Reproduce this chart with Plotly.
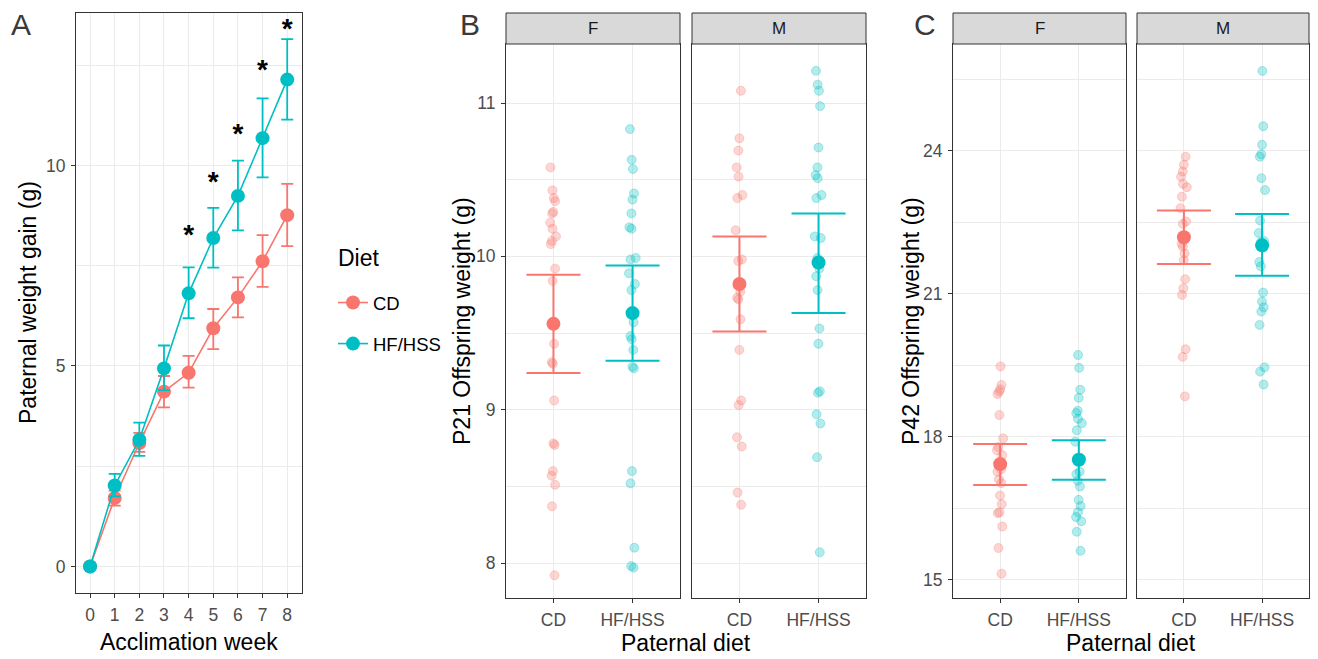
import plotly.graph_objects as go

# page body adds an 8px margin; figure coordinates below are given in screen pixels
OFF = 8
W, H = 1318 - 2 * OFF, 659 - OFF
FONT = "Liberation Sans"
CD_COLOR = "#F8766D"
HF_COLOR = "#00BFC4"
CD_ALPHA = "rgba(248,118,109,0.3)"
HF_ALPHA = "rgba(0,191,196,0.3)"

# ---------------- Panel A data ----------------
weeks = [0, 1, 2, 3, 4, 5, 6, 7, 8]
cd_mean = [0, 1.71, 3.08, 4.36, 4.83, 5.94, 6.71, 7.61, 8.76]
cd_lo = [0, 1.52, 2.86, 3.97, 4.46, 5.42, 6.21, 6.97, 7.99]
cd_hi = [0, 1.89, 3.33, 4.75, 5.25, 6.42, 7.21, 8.26, 9.54]
hf_mean = [0, 2.02, 3.16, 4.94, 6.81, 8.19, 9.24, 10.68, 12.14]
hf_lo = [0, 1.75, 2.76, 4.40, 6.19, 7.45, 8.38, 9.70, 11.14]
hf_hi = [0, 2.31, 3.59, 5.51, 7.46, 8.94, 10.12, 11.67, 13.15]
star_weeks = [4, 5, 6, 7, 8]
star_y = [8.22, 9.54, 10.74, 12.34, 13.36]

# ---------------- Panel B data (P21) ----------------
categories = ["CD", "HF/HSS"]
b_f_cd = [10.58, 10.43, 10.38, 10.36, 10.29, 10.28, 10.22, 10.18, 10.13, 10.10, 10.08, 9.92,
          9.84, 9.43, 9.31, 9.30, 9.06, 8.78, 8.77, 8.60, 8.57, 8.51, 8.37, 7.92]
b_f_hf = [10.83, 10.63, 10.57, 10.41, 10.37, 10.28, 10.19, 10.18, 9.99, 9.98, 9.89, 9.82,
          9.78, 9.57, 9.48, 9.46, 9.39, 9.28, 9.27, 8.60, 8.52, 8.10, 7.98, 7.97]
b_m_cd = [11.08, 10.77, 10.69, 10.58, 10.52, 10.40, 10.38, 10.17, 9.98, 9.97, 9.77, 9.73,
          9.72, 9.59, 9.39, 9.06, 9.03, 8.82, 8.76, 8.46, 8.38]
b_m_hf = [11.21, 11.12, 11.08, 10.98, 10.71, 10.58, 10.53, 10.51, 10.40, 10.38, 10.13, 10.12,
          9.99, 9.92, 9.87, 9.78, 9.53, 9.43, 9.12, 9.11, 8.97, 8.91, 8.69, 8.07]
# mean, lower, upper  (CD, HF/HSS)
b_f_stats = [(9.56, 9.24, 9.88), (9.63, 9.32, 9.94)]
b_m_stats = [(9.82, 9.51, 10.13), (9.96, 9.63, 10.28)]

# ---------------- Panel C data (P42) ----------------
c_f_cd = [19.48, 19.09, 19.00, 18.95, 18.90, 18.46, 17.97, 17.79, 17.72, 17.62, 17.45, 17.32,
          17.27, 17.11, 17.03, 16.77, 16.59, 16.42, 16.40, 16.12, 15.67, 15.13]
c_f_hf = [19.72, 19.45, 18.99, 18.82, 18.55, 18.50, 18.38, 18.29, 18.14, 17.90, 17.55, 17.50,
          17.27, 17.22, 17.08, 16.96, 16.68, 16.55, 16.42, 16.32, 16.23, 16.01, 15.61]
c_m_cd = [23.88, 23.71, 23.57, 23.46, 23.31, 23.24, 23.04, 22.80, 22.52, 22.47, 22.15, 22.05,
          21.99, 21.85, 21.71, 21.31, 21.12, 20.98, 19.84, 19.68, 18.85]
c_m_hf = [25.68, 24.52, 24.13, 23.93, 23.88, 23.43, 23.18, 22.54, 22.28, 22.11, 22.09, 21.97,
          21.67, 21.58, 21.03, 20.84, 20.72, 20.63, 20.35, 19.46, 19.37, 19.10]
c_f_stats = [(17.43, 16.99, 17.85), (17.52, 17.10, 17.93)]
c_m_stats = [(22.19, 21.63, 22.75), (22.02, 21.38, 22.68)]

facet_labels = ["F", "M"]


def fx(p):
    return (p - OFF) / W


def fy(p):
    return 1 - (p - OFF) / H


fig = go.Figure()

# ---------------- Panel A traces ----------------
for name, mean, lo, hi, col in [("CD", cd_mean, cd_lo, cd_hi, CD_COLOR),
                                ("HF/HSS", hf_mean, hf_lo, hf_hi, HF_COLOR)]:
    fig.add_trace(go.Scatter(
        x=weeks, y=mean, mode="lines+markers", name=name, legendgroup=name,
        line=dict(color=col, width=1.6), marker=dict(size=14, color=col),
        error_y=dict(type="data", symmetric=False,
                     array=[h - m for h, m in zip(hi, mean)],
                     arrayminus=[m - l for m, l in zip(mean, lo)],
                     color=col, thickness=1.8, width=6),
        xaxis="x", yaxis="y", hoverinfo="skip"))

fig.add_trace(go.Scatter(
    x=star_weeks, y=star_y, mode="text", text=["*"] * len(star_weeks),
    textposition="middle center",
    textfont=dict(size=28, color="black", family=FONT, weight="bold"),
    showlegend=False, xaxis="x", yaxis="y", cliponaxis=False, hoverinfo="skip"))

# ---------------- Facet traces ----------------
facets = [
    ("x2", "y2", b_f_cd, b_f_hf, b_f_stats),
    ("x3", "y3", b_m_cd, b_m_hf, b_m_stats),
    ("x4", "y4", c_f_cd, c_f_hf, c_f_stats),
    ("x5", "y5", c_m_cd, c_m_hf, c_m_stats),
]
for xa, ya, cdv, hfv, stats in facets:
    for cat, vals, col, alpha in [("CD", cdv, CD_COLOR, CD_ALPHA), ("HF/HSS", hfv, HF_COLOR, HF_ALPHA)]:
        fig.add_trace(go.Box(
            x=[cat] * len(vals), y=vals, boxpoints="all", jitter=0.2, pointpos=0,
            fillcolor="rgba(0,0,0,0)", line=dict(color="rgba(0,0,0,0)", width=0),
            marker=dict(size=9, color=alpha, line=dict(color=alpha, width=1)),
            showlegend=False, hoverinfo="skip", xaxis=xa, yaxis=ya))
    for cat, (m, lo, hi), col in zip(categories, stats, [CD_COLOR, HF_COLOR]):
        fig.add_trace(go.Scatter(
            x=[cat], y=[m], mode="markers", marker=dict(size=14, color=col),
            error_y=dict(type="data", symmetric=False, array=[hi - m], arrayminus=[m - lo],
                         color=col, thickness=2, width=27),
            showlegend=False, hoverinfo="skip", xaxis=xa, yaxis=ya))

# ---------------- Axes ----------------
common = dict(showline=True, mirror=True, linecolor="#333333", linewidth=1,
              ticks="outside", tickcolor="#333333", ticklen=4, tickwidth=1,
              showgrid=True, gridcolor="#EBEBEB", gridwidth=1.2, zeroline=False,
              ticklabelstandoff=2,
              tickfont=dict(size=17.5, color="#4D4D4D", family=FONT))

A_top, A_bot = 13, 593
F_top, F_bot = 44, 598
S_top = 13

layout_axes = {}
layout_axes["xaxis"] = dict(domain=[fx(76), fx(302)], range=[-0.57, 8.6], dtick=1, tick0=0,
                            anchor="y", **common)
layout_axes["yaxis"] = dict(domain=[fy(A_bot), fy(A_top)], range=[-0.66, 13.8], dtick=5, tick0=0,
                            anchor="x", minor=dict(dtick=2.5, showgrid=True, gridcolor="#EBEBEB",
                                                   gridwidth=0.6), **common)

facet_x = [(506, 680), (692, 866), (953, 1126), (1137, 1309)]
yranges = [[7.772, 11.385], [7.772, 11.385], [14.62, 26.245], [14.62, 26.245]]
ydticks = [(1, 0.5), (1, 0.5), (3, 1.5), (3, 1.5)]
for i, ((x0, x1), yr, (dt, mdt)) in enumerate(zip(facet_x, yranges, ydticks)):
    n = i + 2
    layout_axes[f"xaxis{n}"] = dict(domain=[fx(x0), fx(x1)], type="category",
                                    categoryorder="array", categoryarray=categories,
                                    range=[-0.6, 1.6], anchor=f"y{n}", **common)
    ycfg = dict(domain=[fy(F_bot), fy(F_top)], range=yr, dtick=dt, tick0=0, anchor=f"x{n}",
                minor=dict(dtick=mdt, showgrid=True, gridcolor="#EBEBEB", gridwidth=0.6), **common)
    if i in (1, 3):
        ycfg["showticklabels"] = False
        ycfg["ticks"] = ""
    layout_axes[f"yaxis{n}"] = ycfg

# ---------------- Strips ----------------
shapes = []
annotations = []
for i, (x0, x1) in enumerate(facet_x):
    shapes.append(dict(type="rect", xref="paper", yref="paper", x0=fx(x0), x1=fx(x1),
                       y0=fy(F_top), y1=fy(S_top), fillcolor="#D9D9D9",
                       line=dict(color="#333333", width=1), layer="above"))
    annotations.append(dict(xref="paper", yref="paper", x=fx((x0 + x1) / 2), y=fy((S_top + F_top) / 2),
                            text=facet_labels[i % 2], showarrow=False,
                            font=dict(size=17, color="#1A1A1A", family=FONT),
                            xanchor="center", yanchor="middle"))

title_font = dict(size=23, color="black", family=FONT)
for txt, x, y, ang in [("Paternal weight gain (g)", 28, 303, -90),
                       ("P21 Offspring weight (g)", 462, 321, -90),
                       ("P42 Offspring weight (g)", 911, 321, -90),
                       ("Acclimation week", 189, 642, 0),
                       ("Paternal diet", 686, 643, 0),
                       ("Paternal diet", 1131, 643, 0)]:
    annotations.append(dict(xref="paper", yref="paper", x=fx(x), y=fy(y), text=txt,
                            textangle=ang, showarrow=False, font=title_font,
                            xanchor="center", yanchor="middle"))

for txt, x in [("A", 21), ("B", 470), ("C", 925)]:
    annotations.append(dict(xref="paper", yref="paper", x=fx(x), y=fy(24), text=txt,
                            showarrow=False, font=dict(size=30, color="#3A3A3A", family=FONT),
                            xanchor="center", yanchor="middle"))

# legend title
annotations.append(dict(xref="paper", yref="paper", x=fx(336), y=fy(258), text="Diet",
                        showarrow=False, font=dict(size=23, color="black", family=FONT),
                        xanchor="left", yanchor="middle"))

fig.update_layout(
    width=W, height=H, margin=dict(l=0, r=0, t=0, b=0),
    paper_bgcolor="white", plot_bgcolor="white",
    font=dict(family=FONT),
    shapes=shapes, annotations=annotations,
    legend=dict(x=fx(333), y=fy(284), xanchor="left", yanchor="top",
                font=dict(size=18.5, color="black", family=FONT),
                itemwidth=30, tracegroupgap=14, bgcolor="rgba(0,0,0,0)"),
    showlegend=True,
    **layout_axes,
)

fig.write_html("out.html")
